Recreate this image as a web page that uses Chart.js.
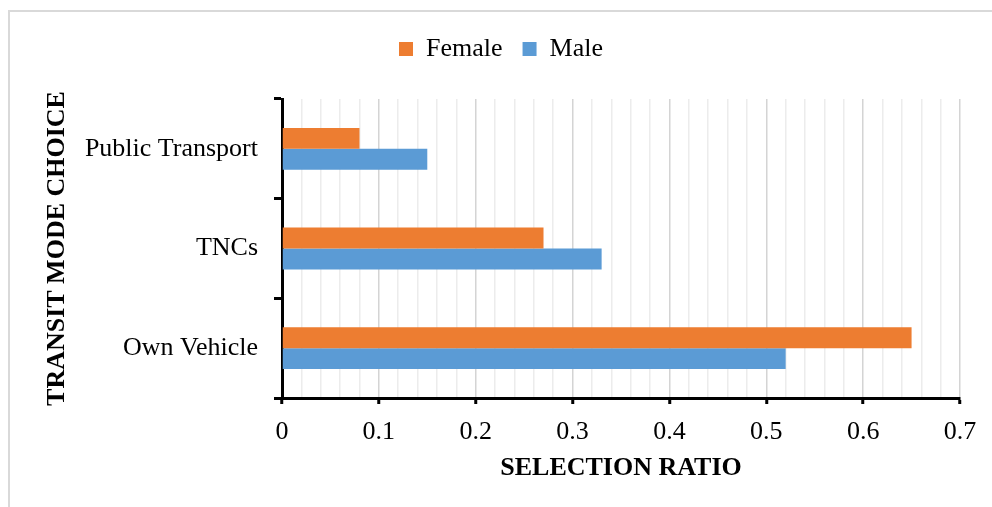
<!DOCTYPE html>
<html>
<head>
<meta charset="utf-8">
<script src="https://cdn.jsdelivr.net/npm/chart.js@4.4.0/dist/chart.umd.min.js"></script>
<style>
  html, body { margin: 0; padding: 0; background: #fff; overflow: hidden; }
  #wrap { position: relative; width: 992px; height: 507px; }
  #frame {
    position: absolute; left: 8px; top: 10px; width: 1200px; height: 800px;
    border: 2px solid #d9d9d9; box-sizing: border-box;
  }
  #chart { position: absolute; left: 0; top: 0; }
</style>
</head>
<body>
<div id="wrap">
  <div id="frame"></div>
  <canvas id="chart" width="992" height="507"></canvas>
</div>
<script>
// ---- data ----
const modes = ['Public Transport', 'TNCs', 'Own Vehicle'];
const femaleRatio = [0.08, 0.27, 0.65];
const maleRatio = [0.15, 0.33, 0.52];
const seriesNames = ['Female', 'Male'];
const xMax = 0.7;
const xStep = 0.02;

// ---- helpers ----
const serif = "'Liberation Serif', 'Times New Roman', serif";
const isMajor = v => Math.round(v * 100) % 10 === 0;

// extra room between legend and plot
const legendGap = {
  id: 'legendGap',
  beforeInit(chart) {
    const fit = chart.legend.fit;
    chart.legend.fit = function () {
      fit.bind(chart.legend)();
      this.height += 27;
    };
  }
};

const ctx = document.getElementById('chart').getContext('2d');

new Chart(ctx, {
  type: 'bar',
  data: {
    labels: modes,
    datasets: [
      { label: seriesNames[0], data: femaleRatio, backgroundColor: '#ED7D31' },
      { label: seriesNames[1], data: maleRatio, backgroundColor: '#5B9BD5' }
    ]
  },
  options: {
    indexAxis: 'y',
    responsive: false,
    animation: false,
    categoryPercentage: 0.42,
    barPercentage: 1.0,
    layout: { padding: { left: 42, right: 32, top: 16, bottom: 23 } },
    plugins: {
      tooltip: { enabled: false },
      legend: {
        position: 'top',
        labels: {
          color: '#000',
          boxWidth: 14,
          boxHeight: 14,
          padding: 20,
          font: { family: serif, size: 26 }
        }
      }
    },
    scales: {
      x: {
        min: 0,
        max: xMax,
        ticks: {
          stepSize: xStep,
          autoSkip: false,
          maxRotation: 0,
          color: '#000',
          padding: 13,
          font: { family: serif, size: 26 },
          callback: v => isMajor(v) ? String(Math.round(v * 10) / 10) : ''
        },
        grid: {
          color: c => isMajor(c.tick.value) ? '#d4d4d4' : '#ececec',
          lineWidth: 1.5,
          tickLength: 6,
          tickWidth: 3,
          tickColor: c => isMajor(c.tick.value) ? '#000' : 'rgba(0,0,0,0)'
        },
        border: { color: '#000', width: 3 },
        title: {
          display: true,
          text: 'SELECTION RATIO',
          color: '#000',
          font: { family: serif, size: 26, weight: 'bold' },
          padding: { top: -4, bottom: 0 }
        },
        afterFit: s => { s.height = 86; }
      },
      y: {
        ticks: {
          color: '#000',
          padding: 16,
          font: { family: serif, size: 26 }
        },
        grid: {
          offset: true,
          drawOnChartArea: false,
          tickLength: 8,
          tickWidth: 3,
          tickColor: '#000'
        },
        border: { color: '#000', width: 3 },
        title: {
          display: true,
          text: 'TRANSIT MODE CHOICE',
          color: '#000',
          font: { family: serif, size: 26, weight: 'bold' },
          padding: { top: 0, bottom: 0 }
        },
        afterFit: s => { s.width = 282 - 42; }
      }
    }
  },
  plugins: [legendGap]
});
</script>
</body>
</html>
